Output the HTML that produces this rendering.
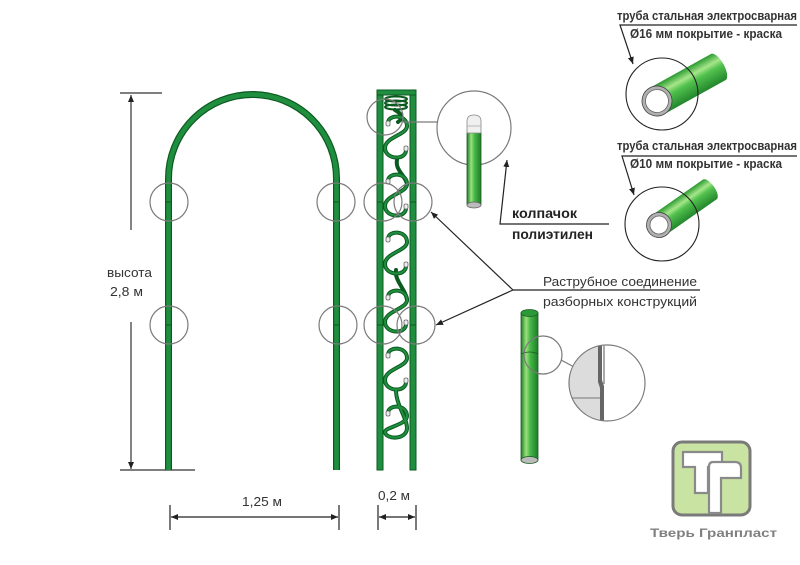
<!DOCTYPE html>
<html><head><meta charset="utf-8"><style>
html,body{margin:0;padding:0;background:#fff;}
svg{display:block;}
text{font-family:"Liberation Sans",sans-serif;}
</style></head><body>
<svg width="800" height="565" viewBox="0 0 800 565" xmlns="http://www.w3.org/2000/svg">
<defs>
<marker id="ah" markerWidth="8" markerHeight="8" refX="7" refY="4" orient="auto" markerUnits="userSpaceOnUse">
<path d="M0,1 L7,4 L0,7 Z" fill="#222"/></marker>
<linearGradient id="tg" x1="0" y1="0" x2="0" y2="1">
<stop offset="0" stop-color="#2a9a30"/><stop offset="0.3" stop-color="#a6e68a"/><stop offset="0.5" stop-color="#52c24e"/><stop offset="1" stop-color="#23862c"/></linearGradient>
<linearGradient id="vg" x1="0" y1="0" x2="1" y2="0">
<stop offset="0" stop-color="#1f7e2a"/><stop offset="0.3" stop-color="#9ae07c"/><stop offset="0.55" stop-color="#45b646"/><stop offset="1" stop-color="#1f7e2a"/></linearGradient>
</defs>

<!-- Height dimension -->
<g stroke="#333" stroke-width="1.2" fill="none">
<line x1="120" y1="93" x2="162" y2="93"/>
<line x1="131" y1="230" x2="131" y2="95" marker-end="url(#ah)"/>
<line x1="131" y1="322" x2="131" y2="469" marker-end="url(#ah)"/>
<line x1="120" y1="470" x2="195" y2="470"/>
</g>
<text x="107" y="277" font-size="13" fill="#333" textLength="45" lengthAdjust="spacingAndGlyphs">высота</text>
<text x="110" y="296" font-size="13" fill="#333" textLength="33" lengthAdjust="spacingAndGlyphs">2,8 м</text>

<!-- Arch -->
<path d="M168.5 470 V178.5 A84 84 0 0 1 336.5 178.5 V470" fill="none" stroke="#0b5a20" stroke-width="7"/>
<path d="M168.5 470 V178.5 A84 84 0 0 1 336.5 178.5 V470" fill="none" stroke="#1f8f3f" stroke-width="4.6"/>
<g stroke="#0b5a20" stroke-width="1">
<line x1="165" y1="202" x2="172" y2="202"/><line x1="333" y1="202" x2="340" y2="202"/>
<line x1="165" y1="325" x2="172" y2="325"/><line x1="333" y1="325" x2="340" y2="325"/>
</g>

<!-- Tower -->
<g fill="#1f8f3f" stroke="#0b5a20" stroke-width="1">
<rect x="377" y="90" width="6" height="380"/>
<rect x="410" y="90" width="6" height="380"/>
<rect x="377" y="90" width="39" height="5"/>
</g>
<g stroke="#0b5a20" stroke-width="1">
<line x1="377" y1="202" x2="383" y2="202"/><line x1="410" y1="202" x2="416" y2="202"/>
<line x1="377" y1="325" x2="383" y2="325"/><line x1="410" y1="325" x2="416" y2="325"/>
</g>
<!-- springs -->
<g fill="none" stroke="#0b5a20" stroke-width="2">
<ellipse cx="396" cy="99" rx="11" ry="2.5"/>
<ellipse cx="396" cy="103" rx="11" ry="2.5"/>
<ellipse cx="396" cy="107" rx="11" ry="2.5"/>
</g>
<!-- S curves -->
<g fill="none" stroke-linecap="round">
<g stroke="#0b5a20" stroke-width="4">
<path d="M388 123 C388 114,407 114,407 126 C407 135,385 137,385 148 C385 160,407 161,406 149"/>
<path d="M395 110 C402 114,404 118,398 122"/>
<path d="M388 181 C388 172,407 172,407 184 C407 193,385 195,385 206 C385 218,407 219,406 207"/>
<path d="M397 160 C395 170,405 175,407 184"/>
<path d="M388 239 C388 230,407 230,407 242 C407 251,385 253,385 264 C385 276,407 277,406 265"/>
<path d="M388 297 C388 288,407 288,407 300 C407 309,385 311,385 322 C385 334,407 335,406 323"/>
<path d="M396 270 C394 280,406 290,407 300"/>
<path d="M388 355 C388 346,407 346,407 358 C407 367,385 369,385 380 C385 392,407 393,406 381"/>
<path d="M388 413 C388 404,407 404,407 416 C407 425,385 427,385 432 C386 440,407 440,407 428 C407 418,396 405,396 390"/>
</g>
<g stroke="#1f8f3f" stroke-width="2">
<path d="M388 123 C388 114,407 114,407 126 C407 135,385 137,385 148 C385 160,407 161,406 149"/>
<path d="M388 181 C388 172,407 172,407 184 C407 193,385 195,385 206 C385 218,407 219,406 207"/>
<path d="M388 239 C388 230,407 230,407 242 C407 251,385 253,385 264 C385 276,407 277,406 265"/>
<path d="M388 297 C388 288,407 288,407 300 C407 309,385 311,385 322 C385 334,407 335,406 323"/>
<path d="M388 355 C388 346,407 346,407 358 C407 367,385 369,385 380 C385 392,407 393,406 381"/>
<path d="M388 413 C388 404,407 404,407 416 C407 425,385 427,385 432 C386 440,407 440,407 428 C407 418,396 405,396 390"/>
</g>
</g>
<g fill="#eee" stroke="#666" stroke-width="0.8">
<rect x="386" y="121" width="4" height="5" rx="1.5"/><rect x="404" y="146" width="4" height="5" rx="1.5"/>
<rect x="386" y="179" width="4" height="5" rx="1.5"/><rect x="404" y="204" width="4" height="5" rx="1.5"/>
<rect x="386" y="237" width="4" height="5" rx="1.5"/><rect x="404" y="262" width="4" height="5" rx="1.5"/>
<rect x="386" y="295" width="4" height="5" rx="1.5"/><rect x="404" y="320" width="4" height="5" rx="1.5"/>
<rect x="386" y="353" width="4" height="5" rx="1.5"/><rect x="404" y="378" width="4" height="5" rx="1.5"/>
<rect x="386" y="411" width="4" height="5" rx="1.5"/>
</g>

<!-- detail circles -->
<g fill="none" stroke="#7a7a7a" stroke-width="1.2">
<circle cx="169" cy="202" r="19"/><circle cx="336" cy="202" r="19"/>
<circle cx="169" cy="325" r="19"/><circle cx="338" cy="325" r="19"/>
<circle cx="383" cy="202" r="19"/><circle cx="413" cy="202" r="19"/>
<circle cx="383" cy="325" r="19"/><circle cx="416" cy="325" r="19"/>
<circle cx="385" cy="117" r="18"/>
<line x1="403" y1="122" x2="437" y2="122"/>
<circle cx="474" cy="128" r="37"/>
</g>

<!-- cap pipe -->
<rect x="467" y="132" width="14" height="73" fill="url(#vg)" stroke="#1a5a20" stroke-width="0.8"/>
<ellipse cx="474" cy="205" rx="7" ry="3" fill="#bbb" stroke="#666" stroke-width="0.8"/>
<path d="M467 133 V121 Q467 115 474 115 Q481 115 481 121 V133 Z" fill="#f0f0f0" stroke="#888" stroke-width="0.8"/>
<line x1="467" y1="126" x2="481" y2="126" stroke="#aaa" stroke-width="0.8"/>

<!-- cap label -->
<g stroke="#222" stroke-width="1.2" fill="none">
<polyline points="609,224 500,224 507,160" marker-end="url(#ah)"/>
</g>
<text x="512" y="218" font-size="14" font-weight="bold" fill="#222" textLength="65" lengthAdjust="spacingAndGlyphs">колпачок</text>
<text x="512" y="239" font-size="14" font-weight="bold" fill="#222" textLength="81" lengthAdjust="spacingAndGlyphs">полиэтилен</text>

<!-- socket joint label -->
<g stroke="#222" stroke-width="1.2" fill="none">
<line x1="700" y1="290" x2="513" y2="290"/>
<line x1="513" y1="290" x2="431" y2="212" marker-end="url(#ah)"/>
<line x1="513" y1="290" x2="436" y2="325" marker-end="url(#ah)"/>
</g>
<text x="543" y="286" font-size="13" fill="#333" textLength="154" lengthAdjust="spacingAndGlyphs">Раструбное соединение</text>
<text x="543" y="306" font-size="13" fill="#333" textLength="154" lengthAdjust="spacingAndGlyphs">разборных конструкций</text>

<!-- bottom pipe -->
<rect x="521" y="313" width="17" height="147" fill="url(#vg)" stroke="#1a5a20" stroke-width="0.8"/>
<ellipse cx="529.5" cy="313" rx="8.5" ry="3.5" fill="#2a9a38" stroke="#1a5a20" stroke-width="0.8"/>
<ellipse cx="529.5" cy="460" rx="8.5" ry="3.5" fill="#bbb" stroke="#1a5a20" stroke-width="0.8"/>
<path d="M521 354 Q529.5 350 538 354" fill="none" stroke="#1a5a20" stroke-width="0.8"/>
<circle cx="543" cy="355" r="19" fill="none" stroke="#7a7a7a" stroke-width="1.2"/>
<line x1="561" y1="360" x2="576" y2="368" stroke="#7a7a7a" stroke-width="1.2"/>
<clipPath id="bc"><circle cx="607" cy="383" r="38"/></clipPath>
<g clip-path="url(#bc)">
<rect x="560" y="340" width="41" height="90" fill="#dcdcdc"/>
<line x1="560" y1="398" x2="601" y2="398" stroke="#777" stroke-width="1"/>
<path d="M598 346 L602 346 L602 380 L604 386 L604 425 L600 425 L600 388 L598 382 Z" fill="#666"/>
<line x1="604" y1="346" x2="604" y2="384" stroke="#555" stroke-width="1"/>
</g>
<circle cx="607" cy="383" r="38" fill="none" stroke="#7a7a7a" stroke-width="1.2"/>

<!-- top right tube 16mm -->
<text x="617" y="20" font-size="12.5" font-weight="bold" fill="#333" textLength="180" lengthAdjust="spacingAndGlyphs">труба стальная электросварная</text>
<text x="630" y="38" font-size="12.5" font-weight="bold" fill="#333" textLength="152" lengthAdjust="spacingAndGlyphs">Ø16 мм покрытие - краска</text>
<g stroke="#222" stroke-width="1.2" fill="none">
<polyline points="797,25 620,25 633,64" marker-end="url(#ah)"/>
</g>
<g transform="translate(657,101) rotate(-29)">
<rect x="0" y="-15" width="70" height="30" fill="url(#tg)"/>
<ellipse cx="70" cy="0" rx="6" ry="15" fill="url(#tg)"/>
<circle cx="0" cy="0" r="15" fill="#b0b0b0" stroke="#444" stroke-width="0.8"/>
<circle cx="0" cy="0" r="11.5" fill="#fff" stroke="#666" stroke-width="0.8"/>
</g>
<circle cx="662" cy="94" r="36" fill="none" stroke="#222" stroke-width="1.1"/>

<!-- tube 10mm -->
<text x="617" y="150" font-size="12.5" font-weight="bold" fill="#333" textLength="180" lengthAdjust="spacingAndGlyphs">труба стальная электросварная</text>
<text x="630" y="168" font-size="12.5" font-weight="bold" fill="#333" textLength="152" lengthAdjust="spacingAndGlyphs">Ø10 мм покрытие - краска</text>
<g stroke="#222" stroke-width="1.2" fill="none">
<polyline points="797,156 622,156 634,195" marker-end="url(#ah)"/>
</g>
<g transform="translate(659,225) rotate(-35)">
<rect x="0" y="-12" width="62" height="24" fill="url(#tg)"/>
<ellipse cx="62" cy="0" rx="5" ry="12" fill="url(#tg)"/>
<circle cx="0" cy="0" r="12.5" fill="#b0b0b0" stroke="#444" stroke-width="0.8"/>
<circle cx="0" cy="0" r="9" fill="#fff" stroke="#666" stroke-width="0.8"/>
</g>
<circle cx="662" cy="224" r="37" fill="none" stroke="#222" stroke-width="1.1"/>

<!-- bottom dims -->
<g stroke="#222" stroke-width="1.2" fill="none">
<line x1="170" y1="505" x2="170" y2="530"/><line x1="339" y1="505" x2="339" y2="530"/>
<line x1="254" y1="517" x2="171" y2="517" marker-end="url(#ah)"/>
<line x1="254" y1="517" x2="338" y2="517" marker-end="url(#ah)"/>
<line x1="378" y1="505" x2="378" y2="530"/><line x1="416" y1="505" x2="416" y2="530"/>
<line x1="397" y1="517" x2="379" y2="517" marker-end="url(#ah)"/>
<line x1="397" y1="517" x2="415" y2="517" marker-end="url(#ah)"/>
</g>
<text x="242" y="506" font-size="13" fill="#333" textLength="40" lengthAdjust="spacingAndGlyphs">1,25 м</text>
<text x="378" y="500" font-size="13" fill="#333" textLength="32" lengthAdjust="spacingAndGlyphs">0,2 м</text>

<!-- logo -->
<rect x="673" y="442" width="77" height="73" rx="9" fill="#c9e3a2" stroke="#7a7a7a" stroke-width="3"/>
<path d="M683 452 H722 V467 H708 V493 H695 V467 H683 Z" fill="#fff" stroke="#8a8a8a" stroke-width="2.2"/>
<path d="M713 462 H735 Q741 462 741 468 V478 H721 V513 H709 V467 Q709 462 713 462 Z" fill="#fff" stroke="#8a8a8a" stroke-width="2.2"/>
<text x="650" y="537" font-size="11.5" font-weight="bold" fill="#808080" textLength="127" lengthAdjust="spacingAndGlyphs">Тверь Гранпласт</text>
</svg>
</body></html>
